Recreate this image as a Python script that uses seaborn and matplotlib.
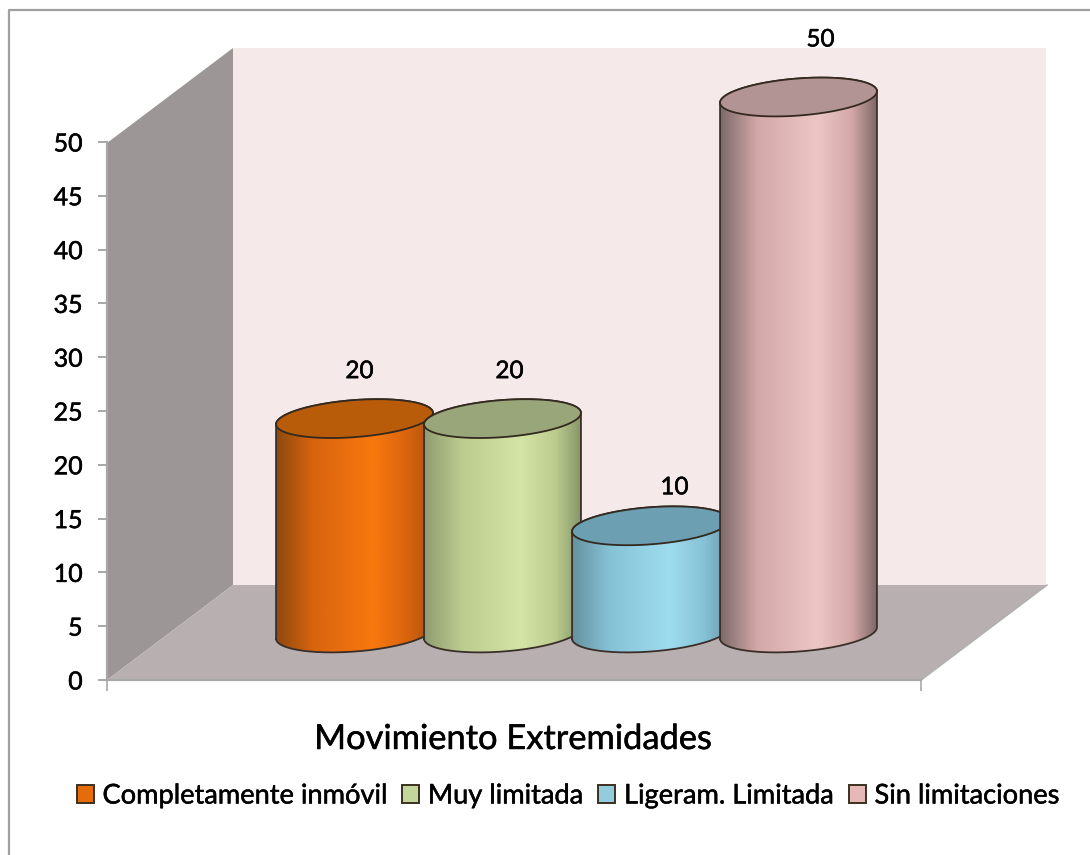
import numpy as np
import pandas as pd
import seaborn as sns
import matplotlib.pyplot as plt
import matplotlib.patheffects as pe
from matplotlib.patches import Patch, Polygon
from matplotlib.path import Path
from matplotlib.colors import LinearSegmentedColormap

# data
categorias = ["Completamente inmóvil", "Muy limitada", "Ligeram. Limitada", "Sin limitaciones"]
valores = [20, 20, 10, 50]
y_ticks = [0, 5, 10, 15, 20, 25, 30, 35, 40, 45, 50]
titulo = "Movimiento Extremidades"

# colours: side edge, body middle, body highlight, top face
c_left = ["#8c4a10", "#8f9c72", "#64929f", "#7c6a6a"]
c_right = ["#a8540c", "#86966a", "#6d9aac", "#7d6868"]
c_mid = ["#d9640e", "#bccc8e", "#86c2d6", "#d4a8a8"]
c_high = ["#f8780e", "#d4e4a6", "#9edcf0", "#ecc6c6"]
c_top = ["#b85c0a", "#98a67a", "#6c9fb2", "#b39494"]
c_legend = ["#e46c0a", "#c3d69b", "#93cddd", "#e6b9b8"]
# label offset from bar top, in pixels
label_off = [(5, 47), (7, 47), (24, 38), (22, 57)]

sns.set_theme(style="white")
plt.rcParams["font.family"] = ["Lato", "DejaVu Sans"]

W, H = 1090, 855
PX_X = 148.0    # pixels per category
PX_Y = 10.72    # pixels per value unit
thick = [pe.withStroke(linewidth=0.35, foreground="black")]
fig = plt.figure(figsize=(W / 100, H / 100), dpi=100, facecolor="white")

# background in pixel coordinates
ax_bg = fig.add_axes([0, 0, 1, 1], zorder=0)
ax_bg.set_xlim(0, W)
ax_bg.set_ylim(H, 0)
ax_bg.axis("off")
ax_bg.plot([9, 9, 1090], [855, 10, 10], color="#a0a0a0", lw=1.6)
ax_bg.add_patch(Polygon([(233, 48), (1046, 48), (1046, 585), (233, 585)], fc="#f5e9ea", ec="none"))
ax_bg.add_patch(Polygon([(107, 680), (107, 143), (233, 48), (233, 585)], fc="#9c9696", ec="none"))
ax_bg.add_patch(Polygon([(107, 680), (921, 680), (1047, 585), (233, 585)], fc="#b8b0b0", ec="none"))
ax_bg.plot([921, 1047], [680, 585], color="#b0b0b0", lw=1.2)

# y axis
ax = fig.add_axes([107 / W, (H - 680) / H, 814 / W, 538 / H], zorder=1, facecolor="none")
ax.set_xlim(0, 1)
ax.set_ylim(0, 50)
ax.set_yticks(y_ticks)
ax.set_xticks([0, 1])
ax.set_xticklabels([])
ax.tick_params(axis="y", length=6.5, width=1.2, color="#999999", labelsize=18, pad=11, left=True, labelcolor="black")
ax.tick_params(axis="x", length=8, width=1.2, color="#a8a8a8", bottom=True)
for s in ["top", "right"]:
    ax.spines[s].set_visible(False)
for s in ["left", "bottom"]:
    ax.spines[s].set_color("#a8a8a8")
    ax.spines[s].set_linewidth(1.6)
for t in ax.get_yticklabels():
    t.set_path_effects(thick)

# cylinders
x0, x1 = -0.8, 3.8
y0, y1 = -4, 56
base_px, center_px = 633, 354.5
ax_bar = fig.add_axes([(center_px + x0 * PX_X) / W, (H - base_px + y0 * PX_Y) / H,
                       (x1 - x0) * PX_X / W, (y1 - y0) * PX_Y / H], zorder=2, facecolor="none")
df = pd.DataFrame({"categoria": categorias, "valor": valores})
sns.barplot(data=df, x="categoria", y="valor", hue="categoria", palette=c_legend,
            width=1.06, legend=False, ax=ax_bar)

tilt = np.deg2rad(4.4)
minor = 18.5


def ring(xc, yc, a, theta):
    # tilted ellipse, built in pixels and returned in data units
    dx = a * np.cos(theta) * np.cos(tilt) - minor * np.sin(theta) * np.sin(tilt)
    dy = a * np.cos(theta) * np.sin(tilt) + minor * np.sin(theta) * np.cos(tilt)
    return xc + dx / PX_X, yc + dy / PX_Y


bars = sorted(ax_bar.patches, key=lambda p: p.get_x())
profile_pos = [0.0, 0.24, 0.62, 0.84, 1.0]
for i, bar in enumerate(bars):
    xc = bar.get_x() + bar.get_width() / 2
    v = bar.get_height()
    a = bar.get_width() * PX_X / 2 / np.cos(tilt)
    z = 3 + i

    low = np.column_stack(ring(xc, 0, a, np.linspace(np.pi, 2 * np.pi, 80)))
    up = np.column_stack(ring(xc, v, a, np.linspace(0, np.pi, 80)))
    outline = np.vstack([low, up, low[:1]])
    clip = Path(outline)
    bar.set_zorder(z)
    bar.set_clip_path(clip, ax_bar.transData)

    cmap = LinearSegmentedColormap.from_list(
        f"cyl{i}", list(zip(profile_pos, [c_left[i], c_mid[i], c_high[i], c_mid[i], c_right[i]])))
    grad = np.linspace(0, 1, 256)[None, :]
    im = ax_bar.imshow(grad, cmap=cmap, extent=(xc - bar.get_width() / 2, xc + bar.get_width() / 2, y0, y1),
                       aspect="auto", zorder=z, interpolation="bilinear")
    im.set_clip_path(clip, ax_bar.transData)

    ax_bar.plot(outline[:, 0], outline[:, 1], color="#3a2e28", lw=1.3, zorder=z, clip_on=False)
    tx, ty = ring(xc, v, a, np.linspace(0, 2 * np.pi, 160))
    ax_bar.fill(tx, ty, facecolor=c_top[i], edgecolor="#33291f", lw=1.3, zorder=z, clip_on=False)

    lab = ax_bar.annotate(str(valores[i]), xy=(xc, v), xytext=(label_off[i][0] * 0.72, label_off[i][1] * 0.72),
                          textcoords="offset points", ha="center", va="center", fontsize=17.5,
                          color="black", zorder=20, annotation_clip=False)
    lab.set_path_effects(thick)

ax_bar.set_xlim(x0, x1)
ax_bar.set_ylim(y0, y1)
ax_bar.axis("off")

# title and legend
fig.text(513.5 / W, 1 - 739 / H, titulo, ha="center", va="center", fontsize=24.8, color="black",
         path_effects=thick)
handles = [Patch(facecolor=c, edgecolor="#3c3020", linewidth=1.4) for c in c_legend]
leg = fig.legend(handles, categorias, ncol=4, loc="center", bbox_to_anchor=(568 / W, 1 - 796 / H), frameon=False,
                 fontsize=19.6, handlelength=0.62, handleheight=0.62, handletextpad=0.33, columnspacing=0.55,
                 labelcolor="black", borderpad=0)
for t in leg.get_texts():
    t.set_path_effects(thick)

fig.savefig("out.png", dpi=100)
